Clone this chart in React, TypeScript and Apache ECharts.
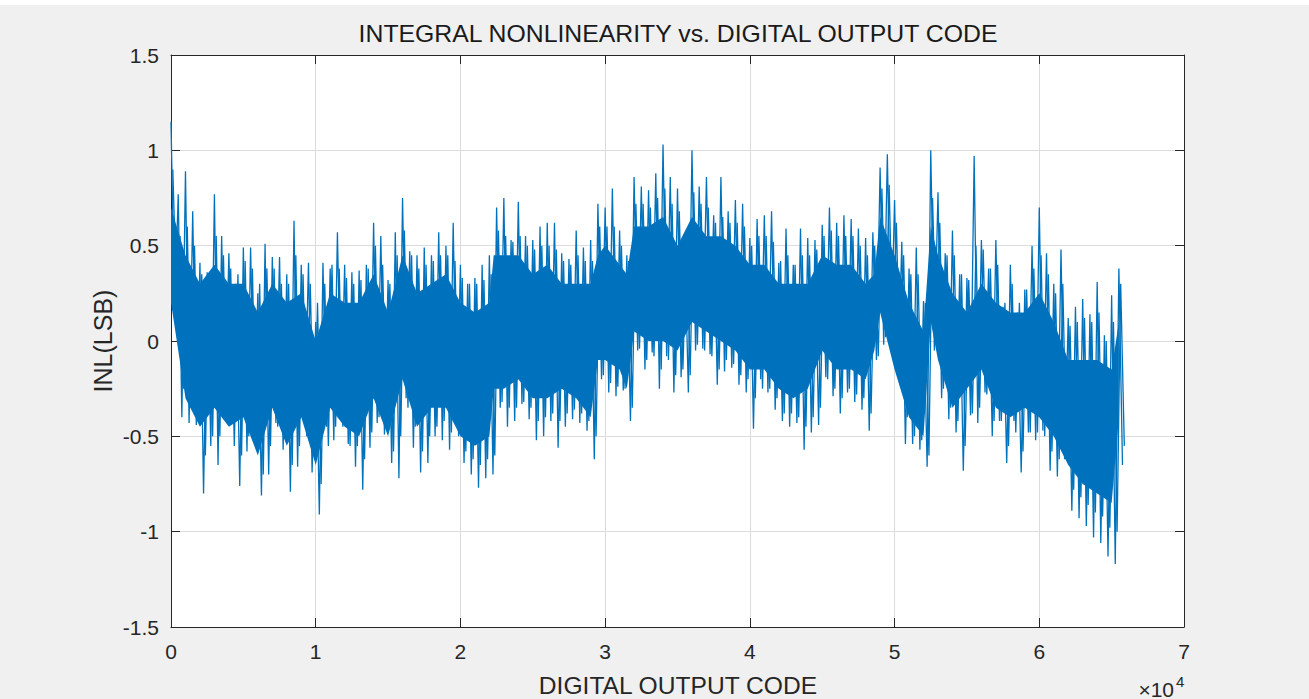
import React, { useEffect, useRef } from "react";
import * as echarts from "echarts";

// ---- data ----
// Envelope of the INL trace, one pair (max, min) per 500-code window, codes 0..65500
const codeStep = 500;
const upperEnv = [
  1.15, 0.77, 0.89, 0.68, 0.41, 0.36, 0.77, 0.55, 0.46, 0.30,
  0.49, 0.49, 0.25, 0.51, 0.44, 0.44, 0.35, 0.63, 0.40, 0.41,
  0.10, 0.41, 0.38, 0.57, 0.40, 0.36, 0.37, 0.40, 0.62, 0.55,
  0.32, 0.57, 0.75, 0.47, 0.45, 0.49, 0.45, 0.57, 0.50, 0.62,
  0.40, 0.30, 0.33, 0.40, 0.45, 0.70, 0.75, 0.53, 0.73, 0.55,
  0.53, 0.60, 0.62, 0.62, 0.46, 0.43, 0.58, 0.49, 0.53, 0.72,
  0.70, 0.80, 0.58, 0.45, 0.86, 0.81, 0.79, 0.88, 1.03, 0.86,
  0.80, 0.52, 1.00, 0.81, 0.86, 0.66, 0.86, 0.68, 0.74, 0.72,
  0.54, 0.64, 0.66, 0.68, 0.41, 0.59, 0.40, 0.59, 0.54, 0.53,
  0.61, 0.70, 0.62, 0.66, 0.64, 0.59, 0.54, 0.57, 0.91, 0.98,
  0.74, 0.52, 0.38, 0.49, 0.21, 1.00, 0.78, 0.46, 0.58, 0.35,
  0.33, 0.97, 0.53, 0.38, 0.53, 0.18, 0.40, 0.15, 0.27, 0.50,
  0.70, 0.46, 0.30, 0.48, 0.12, 0.18, 0.22, 0.14, 0.31, 0.03,
  0.24, 0.38,
];
const lowerEnv = [
  0.15, -0.40, -0.43, -0.44, -0.80, -0.55, -0.65, -0.32, -0.40, -0.76,
  -0.58, -0.45, -0.81, -0.70, -0.43, -0.57, -0.79, -0.66, -0.41, -0.69,
  -0.91, -0.45, -0.52, -0.40, -0.54, -0.66, -0.78, -0.56, -0.43, -0.49,
  -0.64, -0.72, -0.30, -0.56, -0.69, -0.64, -0.50, -0.52, -0.57, -0.45,
  -0.64, -0.70, -0.77, -0.72, -0.70, -0.35, -0.45, -0.42, -0.33, -0.41,
  -0.52, -0.50, -0.42, -0.56, -0.45, -0.41, -0.43, -0.47, -0.62, -0.20,
  -0.27, -0.29, -0.26, -0.42, -0.05, -0.15, -0.06, -0.25, -0.08, -0.27,
  -0.19, -0.27, -0.05, -0.04, -0.07, -0.23, -0.16, -0.14, -0.23, -0.27,
  -0.46, -0.20, -0.27, -0.36, -0.42, -0.45, -0.43, -0.57, -0.48, -0.44,
  -0.19, -0.29, -0.38, -0.27, -0.32, -0.36, -0.47, -0.10, -0.02, -0.05,
  -0.17, -0.54, -0.54, -0.57, -0.66, -0.05, -0.30, -0.41, -0.48, -0.68,
  -0.39, -0.43, -0.27, -0.50, -0.42, -0.64, -0.42, -0.69, -0.48, -0.52,
  -0.47, -0.68, -0.71, -0.62, -0.89, -0.93, -0.97, -1.03, -1.06, -1.13,
  -1.17, -0.65,
];
// Typical (secondary) spike levels in the same 500-code windows
const midUpper = [
  0.90, 0.55, 0.60, 0.50, 0.35, 0.32, 0.55, 0.45, 0.38, 0.35,
  0.42, 0.38, 0.30, 0.38, 0.38, 0.30, 0.30, 0.45, 0.35, 0.30,
  0.20, 0.30, 0.40, 0.38, 0.33, 0.30, 0.32, 0.38, 0.50, 0.40,
  0.30, 0.45, 0.58, 0.45, 0.38, 0.40, 0.42, 0.45, 0.45, 0.42,
  0.33, 0.30, 0.30, 0.32, 0.35, 0.58, 0.55, 0.52, 0.55, 0.50,
  0.48, 0.50, 0.50, 0.48, 0.42, 0.40, 0.45, 0.42, 0.42, 0.60,
  0.60, 0.60, 0.50, 0.42, 0.72, 0.72, 0.70, 0.75, 0.80, 0.72,
  0.68, 0.55, 0.78, 0.72, 0.70, 0.62, 0.65, 0.62, 0.62, 0.60,
  0.50, 0.55, 0.55, 0.52, 0.42, 0.45, 0.40, 0.45, 0.45, 0.48,
  0.55, 0.58, 0.55, 0.55, 0.55, 0.50, 0.45, 0.50, 0.80, 0.82,
  0.62, 0.45, 0.35, 0.35, 0.20, 0.75, 0.62, 0.45, 0.45, 0.35,
  0.32, 0.50, 0.48, 0.38, 0.40, 0.20, 0.30, 0.20, 0.27, 0.38,
  0.45, 0.35, 0.25, 0.30, 0.08, 0.10, 0.12, 0.10, 0.15, 0.00,
  0.10, 0.30,
];
const midLower = [
  0.25, -0.25, -0.35, -0.38, -0.60, -0.50, -0.50, -0.42, -0.55, -0.60,
  -0.50, -0.55, -0.70, -0.55, -0.45, -0.48, -0.65, -0.55, -0.50, -0.60,
  -0.75, -0.55, -0.45, -0.45, -0.55, -0.55, -0.62, -0.48, -0.40, -0.45,
  -0.58, -0.50, -0.35, -0.45, -0.58, -0.50, -0.45, -0.42, -0.48, -0.50,
  -0.58, -0.62, -0.65, -0.62, -0.60, -0.32, -0.35, -0.35, -0.32, -0.35,
  -0.42, -0.40, -0.38, -0.42, -0.38, -0.36, -0.38, -0.42, -0.50, -0.18,
  -0.22, -0.24, -0.25, -0.35, -0.04, -0.10, -0.08, -0.15, -0.10, -0.18,
  -0.15, -0.18, -0.02, -0.05, -0.08, -0.15, -0.10, -0.12, -0.18, -0.20,
  -0.30, -0.25, -0.25, -0.30, -0.38, -0.38, -0.40, -0.45, -0.40, -0.35,
  -0.20, -0.25, -0.30, -0.25, -0.28, -0.30, -0.38, -0.08, 0.02, 0.00,
  -0.15, -0.40, -0.50, -0.52, -0.60, 0.00, -0.25, -0.35, -0.42, -0.55,
  -0.38, -0.35, -0.28, -0.42, -0.42, -0.55, -0.48, -0.58, -0.48, -0.48,
  -0.50, -0.58, -0.62, -0.60, -0.78, -0.82, -0.86, -0.90, -0.92, -0.98,
  -1.00, -0.55,
];
// Dense (solid) core of the trace
const coreCodes = [
  0, 1000, 2000, 3000, 4000, 5000, 6000, 7000, 8000, 9000,
  10000, 11000, 12000, 13000, 14000, 15000, 16000, 17000, 18000, 19000,
  20000, 21000, 22000, 22300, 23000, 24000, 25000, 26000, 27000, 28000,
  29000, 29500, 30000, 31000, 31500, 32000, 33000, 34000, 35000, 36000,
  37000, 38000, 39000, 40000, 41000, 42000, 43000, 44000, 45000, 46000,
  47000, 48000, 48600, 49000, 50000, 51000, 52000, 52500, 53000, 54000,
  55000, 56000, 57000, 58000, 59000, 60000, 61000, 62000, 63000, 64000,
  65000, 65500,
];
const coreUpper = [
  0.70, 0.45, 0.30, 0.40, 0.30, 0.30, 0.15, 0.30, 0.20, 0.25,
  0.00, 0.25, 0.20, 0.20, 0.35, 0.15, 0.45, 0.25, 0.30, 0.35,
  0.20, 0.15, 0.20, 0.45, 0.45, 0.45, 0.35, 0.40, 0.30, 0.30,
  0.30, 0.45, 0.50, 0.40, 0.35, 0.60, 0.60, 0.65, 0.50, 0.65,
  0.55, 0.55, 0.50, 0.40, 0.40, 0.30, 0.30, 0.30, 0.45, 0.40,
  0.40, 0.30, 0.35, 0.65, 0.45, 0.20, 0.05, 0.60, 0.45, 0.25,
  0.15, 0.30, 0.20, 0.15, 0.15, 0.25, 0.10, -0.10, -0.10, -0.10,
  -0.15, 0.10,
];
const coreLower = [
  0.20, -0.30, -0.45, -0.35, -0.45, -0.40, -0.60, -0.35, -0.55, -0.40,
  -0.65, -0.35, -0.45, -0.50, -0.30, -0.50, -0.20, -0.45, -0.35, -0.35,
  -0.50, -0.55, -0.50, -0.25, -0.25, -0.20, -0.30, -0.30, -0.25, -0.30,
  -0.40, -0.10, -0.10, -0.15, -0.25, 0.05, 0.00, 0.00, -0.05, 0.10,
  0.05, 0.00, -0.05, -0.15, -0.15, -0.25, -0.30, -0.25, -0.05, -0.15,
  -0.15, -0.20, -0.05, 0.15, -0.15, -0.40, -0.50, 0.10, -0.10, -0.35,
  -0.25, -0.15, -0.35, -0.40, -0.35, -0.40, -0.50, -0.65, -0.75, -0.80,
  -0.85, -0.40,
];

const FONT = "'Liberation Sans', Arial, Helvetica, sans-serif";
const TXT = "#262626";
const LINE = "#0072BD";

export default function App() {
  const ref = useRef<HTMLDivElement>(null);
  useEffect(() => {
    if (!ref.current) return;
    const chart = echarts.init(ref.current, undefined, { renderer: "svg" });

    const zig: number[][] = [];
    upperEnv.forEach((u, i) => {
      zig.push([i * codeStep, u]);
      zig.push([i * codeStep + codeStep / 2, lowerEnv[i]]);
    });
    const zig2: number[][] = [];
    midUpper.forEach((u, i) => {
      zig2.push([i * codeStep + codeStep / 4, u]);
      zig2.push([i * codeStep + (3 * codeStep) / 4, midLower[i]]);
    });

    const xCommon = {
      type: "value",
      min: 0,
      max: 70000,
      interval: 10000,
      gridIndex: 0,
      axisLine: { show: true, onZero: false, lineStyle: { color: TXT, width: 1 } },
      axisTick: { show: true, inside: true, length: 9, lineStyle: { color: TXT } },
    };
    const yCommon = {
      type: "value",
      min: -1.5,
      max: 1.5,
      interval: 0.5,
      gridIndex: 0,
      axisLine: { show: true, onZero: false, lineStyle: { color: TXT, width: 1 } },
      axisTick: { show: true, inside: true, length: 9, lineStyle: { color: TXT } },
    };

    chart.setOption({
      animation: false,
      backgroundColor: "#f0f0f0",
      grid: {
        left: 171,
        top: 55,
        width: 1013,
        height: 572,
        show: true,
        backgroundColor: "#ffffff",
        borderWidth: 0,
      },
      xAxis: [
        {
          ...xCommon,
          position: "bottom",
          axisLabel: {
            show: true,
            margin: 14,
            fontSize: 21,
            fontFamily: FONT,
            color: TXT,
            formatter: (v: number) => String(v / 10000),
          },
          splitLine: { show: true, lineStyle: { color: "#dcdcdc", width: 1 } },
        },
        {
          ...xCommon,
          position: "top",
          axisLabel: { show: false },
          splitLine: { show: false },
        },
      ],
      yAxis: [
        {
          ...yCommon,
          position: "left",
          axisLabel: {
            show: true,
            margin: 12,
            fontSize: 21,
            fontFamily: FONT,
            color: TXT,
          },
          splitLine: { show: true, lineStyle: { color: "#dcdcdc", width: 1 } },
        },
        {
          ...yCommon,
          position: "right",
          axisLabel: { show: false },
          splitLine: { show: false },
        },
      ],
      graphic: [
        { type: "rect", shape: { x: 0, y: 0, width: 1309, height: 5 }, style: { fill: "#ffffff" }, silent: true },
        {
          type: "text",
          x: 678,
          y: 33,
          style: {
            text: "INTEGRAL NONLINEARITY vs. DIGITAL OUTPUT CODE",
            fontSize: 24.8,
            fontFamily: FONT,
            fill: "#1a1a1a",
            align: "center",
            verticalAlign: "middle",
          },
        },
        {
          type: "text",
          x: 678,
          y: 685,
          style: {
            text: "DIGITAL OUTPUT CODE",
            fontSize: 24.6,
            fontFamily: FONT,
            fill: TXT,
            align: "center",
            verticalAlign: "middle",
          },
        },
        {
          type: "text",
          x: 103,
          y: 341,
          rotation: Math.PI / 2,
          style: {
            text: "INL(LSB)",
            fontSize: 25,
            fontFamily: FONT,
            fill: TXT,
            align: "center",
            verticalAlign: "middle",
          },
        },
        {
          type: "text",
          x: 1174,
          y: 689,
          style: {
            text: "×10",
            fontSize: 21,
            fontFamily: FONT,
            fill: TXT,
            align: "right",
            verticalAlign: "middle",
          },
        },
        {
          type: "text",
          x: 1176,
          y: 681,
          style: {
            text: "4",
            fontSize: 15,
            fontFamily: FONT,
            fill: TXT,
            align: "left",
            verticalAlign: "middle",
          },
        },
      ],
      series: [
        {
          type: "custom",
          coordinateSystem: "cartesian2d",
          xAxisIndex: 0,
          yAxisIndex: 0,
          silent: true,
          z: 2,
          data: coreCodes.map((c, i) => [c, coreUpper[i], coreLower[i]]),
          renderItem: (params: any, api: any) => {
            if (params.dataIndex !== 0) return null;
            const pts: number[][] = [];
            for (let i = 0; i < coreCodes.length; i++) pts.push(api.coord([coreCodes[i], coreUpper[i]]));
            for (let i = coreCodes.length - 1; i >= 0; i--) pts.push(api.coord([coreCodes[i], coreLower[i]]));
            return { type: "polygon", shape: { points: pts }, style: { fill: LINE } };
          },
        },
        {
          type: "line",
          xAxisIndex: 0,
          yAxisIndex: 0,
          data: zig2,
          showSymbol: false,
          symbol: "none",
          clip: true,
          z: 3,
          lineStyle: { color: LINE, width: 1.3 },
        },
        {
          type: "line",
          xAxisIndex: 0,
          yAxisIndex: 0,
          data: zig,
          showSymbol: false,
          symbol: "none",
          clip: true,
          z: 4,
          lineStyle: { color: LINE, width: 1.3 },
        },
      ],
    });
    return () => chart.dispose();
  }, []);

  return (
    <div
      ref={ref}
      style={{ position: "fixed", left: 0, top: 0, width: 1309, height: 699, background: "#f0f0f0" }}
    />
  );
}
